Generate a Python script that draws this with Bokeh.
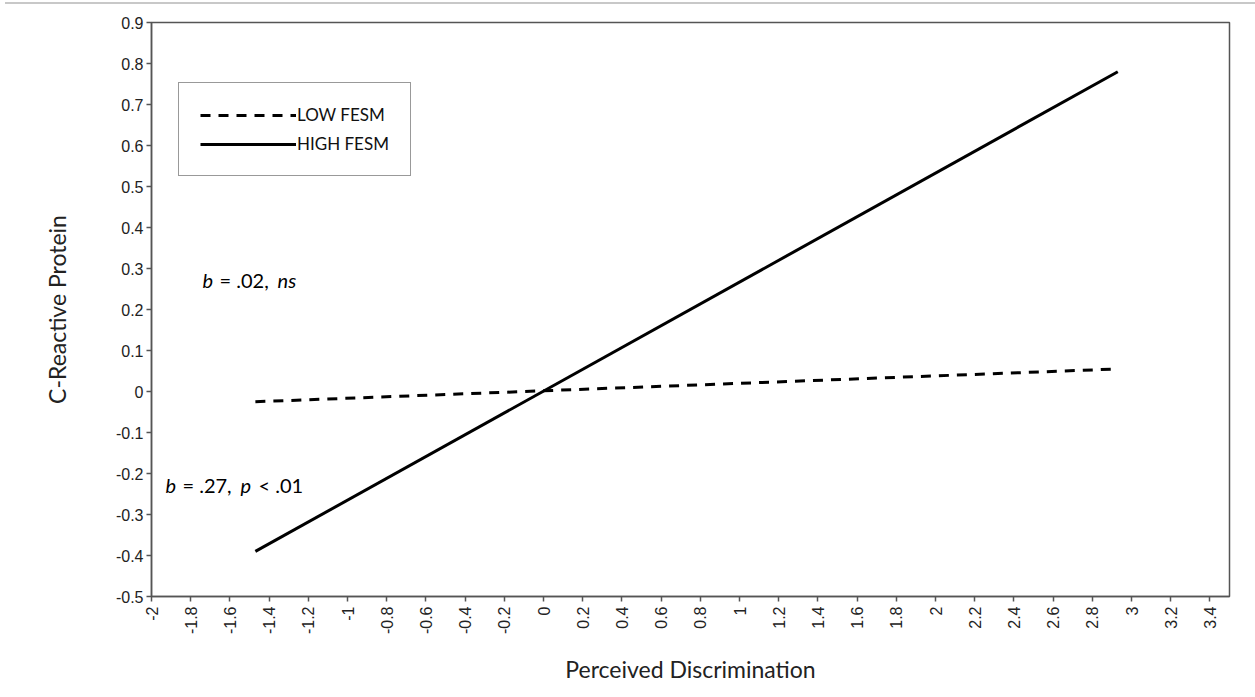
from math import pi
from bokeh.plotting import figure
from bokeh.models import Legend, LegendItem, Label, FixedTicker, Div, Range1d
from bokeh.layouts import column
from bokeh.embed import file_html
from bokeh.resources import INLINE

# ---- data ----
x_ticks = [round(-2 + 0.2 * i, 1) for i in range(28)]
x_tick_labels = ["-2", "-1.8", "-1.6", "-1.4", "-1.2", "-1", "-0.8", "-0.6", "-0.4", "-0.2",
                 "0", "0.2", "0.4", "0.6", "0.8", "1", "1.2", "1.4", "1.6", "1.8",
                 "2", "2.2", "2.4", "2.6", "2.8", "3", "3.2", "3.4"]
y_ticks = [round(-0.5 + 0.1 * i, 1) for i in range(15)]
y_tick_labels = ["-0.5", "-0.4", "-0.3", "-0.2", "-0.1", "0", "0.1", "0.2", "0.3",
                 "0.4", "0.5", "0.6", "0.7", "0.8", "0.9"]

discrimination = [-1.47, 2.93]
crp_low_fesm = [-0.025, 0.055]
crp_high_fesm = [-0.39, 0.78]

FONT_SANS = "Liberation Sans"
FONT_TXT = "Lato"

top_div = Div(text="", width=1250, height=4, margin=(0, 0, 0, 5),
              styles={"border-bottom": "2px solid #c8c8c8", "box-sizing": "border-box"})

p = figure(width=1255, height=693, output_backend="svg", toolbar_location=None,
           x_range=Range1d(-2, 3.5), y_range=Range1d(-0.5, 0.9),
           min_border_left=151, min_border_right=26, min_border_top=18, min_border_bottom=101)
p.grid.visible = False
p.outline_line_color = "#555555"
p.outline_line_width = 1.5
p.background_fill_color = "white"
p.border_fill_color = "white"

for ax in (p.xaxis[0], p.yaxis[0]):
    ax.axis_line_color = "#555555"
    ax.axis_line_width = 1.5
    ax.major_tick_line_color = "#555555"
    ax.major_tick_line_width = 1.5
    ax.major_tick_out = 5
    ax.major_tick_in = 0
    ax.minor_tick_line_color = None
    ax.major_label_text_font = FONT_SANS
    ax.major_label_text_font_size = "16px"
    ax.major_label_text_color = "#222222"
    ax.axis_label_text_font = FONT_TXT
    ax.axis_label_text_font_size = "23px"
    ax.axis_label_text_font_style = "normal"
    ax.axis_label_text_color = "#222222"

p.xaxis.ticker = FixedTicker(ticks=x_ticks)
p.xaxis.major_label_overrides = {t: l for t, l in zip(x_ticks, x_tick_labels)}
p.xaxis.major_label_orientation = pi / 2
p.xaxis.major_label_standoff = 5
p.xaxis.axis_label = "Perceived Discrimination"
p.xaxis.axis_label_standoff = 18

p.yaxis.ticker = FixedTicker(ticks=y_ticks)
p.yaxis.major_label_overrides = {t: l for t, l in zip(y_ticks, y_tick_labels)}
p.yaxis.major_label_standoff = 3
p.yaxis.axis_label = "C-Reactive Protein"
p.yaxis.axis_label_standoff = 42

low = p.line(discrimination, crp_low_fesm, line_color="black", line_width=3, line_dash="10 8")
high = p.line(discrimination, crp_high_fesm, line_color="black", line_width=3)

legend = Legend(items=[LegendItem(label="LOW FESM", renderers=[low]),
                       LegendItem(label="HIGH FESM", renderers=[high])],
                location=(27, 420), orientation="vertical",
                glyph_width=96, glyph_height=20, label_height=20, label_standoff=1,
                padding=21, spacing=8, margin=0,
                label_text_font=FONT_TXT, label_text_font_size="17px", label_text_color="#111111",
                border_line_color="#333333", border_line_width=1, background_fill_alpha=1)
p.add_layout(legend)

def lab(x, y, t, italic=False):
    p.add_layout(Label(x=x, y=y, text=t, text_font=FONT_TXT, text_font_size="20px",
                       text_font_style="italic" if italic else "normal",
                       text_baseline="middle", text_align="left", text_color="black"))

lab(-1.74, 0.273, "b", True)
lab(-1.653, 0.273, "= .02,")
lab(-1.357, 0.273, "ns", True)

lab(-1.929, -0.229, "b", True)
lab(-1.842, -0.229, "= .27,")
lab(-1.546, -0.229, "p", True)
lab(-1.454, -0.229, "< .01")

layout = column(top_div, p, spacing=0)
open("out.html", "w").write(file_html(layout, INLINE))
